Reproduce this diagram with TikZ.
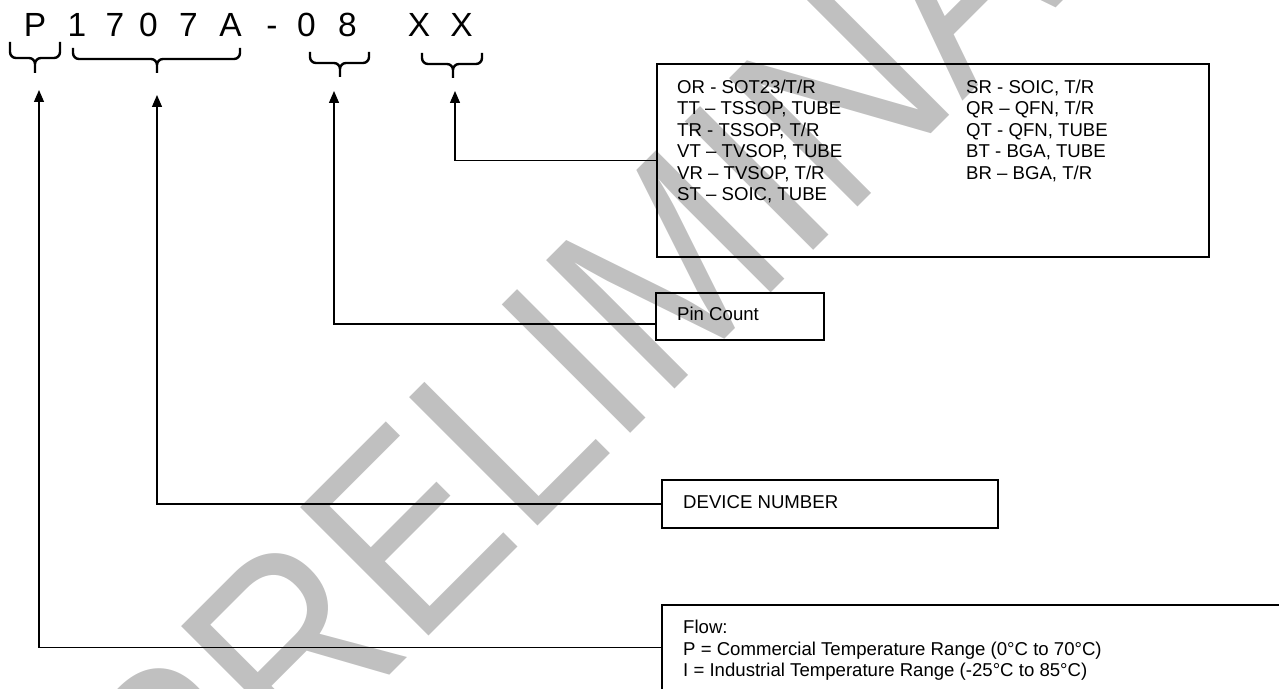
\documentclass[tikz,border=0pt]{standalone}
\usepackage{fontspec}
\setmainfont{Liberation Sans}
\usetikzlibrary{arrows.meta,calc}
\definecolor{wm}{RGB}{192,192,192}
\begin{document}
\begin{tikzpicture}[x=1pt,y=1pt,
  lbl/.style={font=\fontsize{18.6}{21.4}\selectfont, inner sep=0pt, anchor=base west},
  ch/.style={font=\fontsize{33.5}{36}\selectfont, inner sep=0pt, anchor=base},
  box/.style={draw, line width=1.4pt, rectangle, inner sep=0pt},
  conn/.style={line width=1.3pt, -{Triangle[length=12pt,width=10pt]}},
  brc/.style={line width=2.4pt, rounded corners=6pt},
]
\useasboundingbox (0,0) rectangle (1279,688);
\begin{scope}
\clip (0,0) rectangle (1279,688);
\node[text=wm, rotate=45, inner sep=0pt, font=\fontsize{264}{264}\selectfont] (wmark) at (678,430) {\scalebox{0.88}[1]{PRELIMINARY}};
\end{scope}

% part number characters
\node[ch] (c1) at (35,651) {P};
\node[ch] (c2) at (77,651) {1};
\node[ch] (c3) at (115,651) {7};
\node[ch] (c4) at (148.5,651) {0};
\node[ch] (c5) at (188.5,651) {7};
\node[ch] (c6) at (230.5,651) {A};
\node[ch] (c7) at (272,651) {-};
\node[ch] (c8) at (306.5,651) {0};
\node[ch] (c9) at (347.5,651) {8};
\node[ch] (c10) at (419,651) {X};
\node[ch] (c11) at (461.5,651) {X};

% braces
\draw[brc] (10,646) -- (10,630) -- (35,630) -- (35,615)
           (60,646) -- (60,630) -- (35,630) -- (35,615);
\draw[brc] (73,640) -- (73,629) -- (157,629) -- (157,615)
           (240,640) -- (240,629) -- (157,629) -- (157,615);
\draw[brc] (310,636) -- (310,625) -- (340,625) -- (340,611)
           (369,636) -- (369,625) -- (340,625) -- (340,611);
\draw[brc] (422,635) -- (422,624) -- (453,624) -- (453,610)
           (482,635) -- (482,624) -- (453,624) -- (453,610);

% boxes
\node[box, minimum width=552pt, minimum height=193pt] (codes) at (933,527.5) {};
\node[box, minimum width=168pt, minimum height=47pt] (pin) at (740,371.5) {};
\node[box, minimum width=336pt, minimum height=48pt] (dev) at (830,184) {};
\node[box, minimum width=620pt, minimum height=85pt] (flow) at (972,40.5) {};

% arrow tips
\coordinate (tipP) at (39,598);
\coordinate (tipD) at (157,593);
\coordinate (tipC) at (334,597);
\coordinate (tipX) at (455,597);
\coordinate (pinjoin) at ($(pin.west)+(0,-7.5)$);

\draw[conn] (codes.west) -| (tipX);
\draw[conn] (pinjoin) -| (tipC);
\draw[conn] (dev.west) -| (tipD);
\draw[conn] (flow.west) -| (tipP);

% codes text
\node[lbl] (l1) at (677,594.4) {OR - SOT23/T/R};
\node[lbl] (l2) at (677,573.0) {TT – TSSOP, TUBE};
\node[lbl] (l3) at (677,551.6) {TR - TSSOP, T/R};
\node[lbl] (l4) at (677,530.2) {VT – TVSOP, TUBE};
\node[lbl] (l5) at (677,508.8) {VR – TVSOP, T/R};
\node[lbl] (l6) at (677,487.4) {ST – SOIC, TUBE};
\node[lbl] (r1) at (966,594.4) {SR - SOIC, T/R};
\node[lbl] (r2) at (966,573.0) {QR – QFN, T/R};
\node[lbl] (r3) at (966,551.6) {QT - QFN, TUBE};
\node[lbl] (r4) at (966,530.2) {BT - BGA, TUBE};
\node[lbl] (r5) at (966,508.8) {BR – BGA, T/R};

\node[lbl] (pintxt) at (677,367.4) {Pin Count};
\node[lbl] (devtxt) at (683,179) {DEVICE NUMBER};
\node[lbl] (f1) at (683,54.4) {Flow:};
\node[lbl] (f2) at (683,33) {P = Commercial Temperature Range (0°C to 70°C)};
\node[lbl] (f3) at (683,11.6) {I = Industrial Temperature Range (-25°C to 85°C)};
\end{tikzpicture}
\end{document}
